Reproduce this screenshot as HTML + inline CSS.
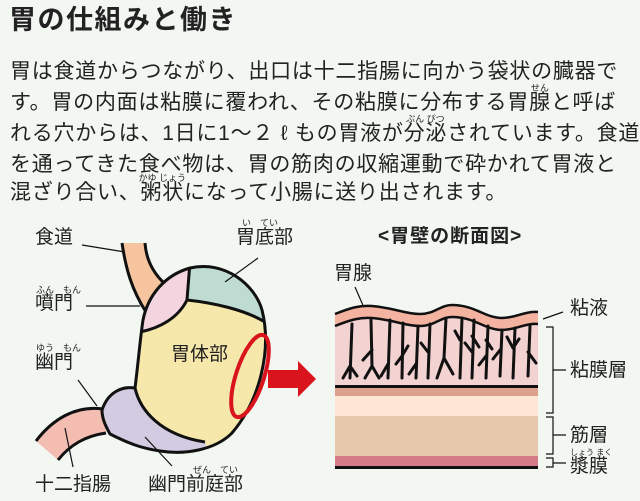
<!DOCTYPE html>
<html><head><meta charset="utf-8"><style>
html,body{margin:0;padding:0;background:#f3f7f2;}
body{width:640px;height:501px;position:relative;overflow:hidden;font-family:"Liberation Sans","Noto Sans CJK JP",sans-serif;color:#222;}
.t{position:absolute;left:10px;font-size:21px;letter-spacing:0.75px;white-space:nowrap;line-height:24px;}
.rb{position:relative;}
.rb i{position:absolute;left:50%;transform:translateX(-50%);top:-8px;font-style:normal;font-size:9px;line-height:10px;letter-spacing:0;white-space:nowrap;}
h1{position:absolute;left:9px;top:3px;margin:0;font-size:27px;font-weight:bold;letter-spacing:1.5px;line-height:34px;}
.r{position:absolute;font-size:9px;line-height:10px;white-space:nowrap;}
.l{position:absolute;font-size:19px;line-height:22px;white-space:nowrap;}
</style></head><body>
<h1>胃の仕組みと働き</h1>
<div class="t" style="top:60px">胃は食道からつながり、出口は十二指腸に向かう袋状の臓器で</div>
<div class="t" style="top:91px">す。胃の内面は粘膜に覆われ、その粘膜に分布する胃<span class="rb">腺<i>せん</i></span>と呼ば</div>
<div class="t" style="top:122px">れる穴からは、1日に1～２ ℓ もの胃液が<span class="rb">分泌<i>ぶん ぴつ</i></span>されています。食道</div>
<div class="t" style="top:153px">を通ってきた食べ物は、胃の筋肉の収縮運動で砕かれて胃液と</div>
<div class="t" style="top:181px">混ざり合い、<span class="rb">粥状<i>かゆ じょう</i></span>になって小腸に送り出されます。</div>

<svg width="640" height="501" style="position:absolute;left:0;top:0" xmlns="http://www.w3.org/2000/svg">
<defs>
<clipPath id="st"><path d="M190,268 C225,260 255,285 262,310 C272,350 260,400 232,433 C215,450 185,455 160,451 C140,448 128,443 110,434 L102,410 C108,392 122,386 135,388 C138,365 140,340 143,320 C148,295 165,275 190,268 Z"/></clipPath>
</defs>
<path d="M122,243 C126,270 132,290 146,312 L165,284 C152,272 146,258 145,243 Z" fill="#f6c49e" stroke="none"/>
<path d="M122,243 C126,270 132,290 146,312 M145,243 C146,258 152,272 165,284" fill="none" stroke="#111" stroke-width="3"/>
<path d="M103,409 C75,405 52,420 36,441 L58,460 C70,445 85,436 106,433 Z" fill="#f4bdb2"/>
<path d="M103,409 C75,405 52,420 36,441 M58,460 C70,445 85,436 106,433" fill="none" stroke="#111" stroke-width="3"/>
<g clip-path="url(#st)">
<rect x="90" y="250" width="190" height="220" fill="#f6e7ab"/>
<path d="M100,250 L190,262 L187,300 C178,318 160,328 140,332 L100,340 Z" fill="#f4d5df"/>
<path d="M190,262 L187,300 C215,303 245,310 265,322 L280,250 Z" fill="#bfdcd3"/>
<path d="M90,380 L135,388 C140,410 160,435 205,442 L210,470 L90,470 Z" fill="#d2cbe2"/>
<path d="M190,262 L187,300 C178,318 160,328 140,332 M187,300 C215,303 245,310 265,322 M135,388 C140,410 160,435 205,442" fill="none" stroke="#111" stroke-width="3"/>
</g>
<path d="M190,268 C225,260 255,285 262,310 C272,350 260,400 232,433 C215,450 185,455 160,451 C140,448 128,443 110,434 C105,425 102,418 102,410 C108,392 122,386 135,388 C138,365 140,340 143,320 C148,295 165,275 190,268 Z" fill="none" stroke="#111" stroke-width="3"/>
<ellipse cx="250" cy="376" rx="14" ry="43" transform="rotate(18 250 376)" fill="none" stroke="#d9141c" stroke-width="4"/>
<path d="M268,370 L298,370 L298,361 L316,379 L298,397 L298,388 L268,388 Z" fill="#d9141c"/>
<g stroke="#111" stroke-width="1.2" fill="none">
<path d="M82,245 L125,252"/><path d="M258,258 L225,282"/><path d="M86,306 L140,306"/>
<path d="M78,380 L97,406"/><path d="M65,428 L73,467"/><path d="M145,437 L172,466"/>
<path d="M355,287 L372,326"/><path d="M543,319 L563,312"/>
<path d="M546,327 L553,327 L553,413 L546,413 M553,370 L566,370"/>
<path d="M546,417 L553,417 L553,454 L546,454 M553,435 L566,435"/>
<path d="M546,458 L553,458 L553,467 L546,467 M553,463 L566,463"/>
</g>
<path d="M335,326 C350,320 360,317 372,318 C395,320 405,326 420,326 C435,326 440,317 452,317 C475,317 485,330 502,330 C515,330 525,323 538,324 L538,386 L335,386 Z" fill="#f2d3d1"/>
<path d="M335,314 C350,308 360,305 372,306 C395,308 405,314 420,314 C435,314 440,305 452,305 C475,305 485,318 502,318 C515,318 525,311 538,312 L538,324 C525,323 515,330 502,330 C485,330 475,317 452,317 C440,317 435,326 420,326 C405,326 395,320 372,318 C360,317 350,320 335,326 Z" fill="#f3b3a0"/>
<path d="M335,314 C350,308 360,305 372,306 C395,308 405,314 420,314 C435,314 440,305 452,305 C475,305 485,318 502,318 C515,318 525,311 538,312 M335,326 C350,320 360,317 372,318 C395,320 405,326 420,326 C435,326 440,317 452,317 C475,317 485,330 502,330 C515,330 525,323 538,324" fill="none" stroke="#111" stroke-width="2.5"/>
<rect x="335" y="387" width="203" height="9" fill="#dca08c"/>
<rect x="335" y="396" width="203" height="20" fill="#fde6d6"/>
<rect x="335" y="416" width="203" height="40" fill="#e8c8ac"/>
<rect x="335" y="456" width="203" height="10" fill="#d47c88"/>
<rect x="335" y="385" width="203" height="3" fill="#111"/>
<rect x="335" y="466" width="203" height="3" fill="#111"/>
<g stroke="#111" stroke-width="3" fill="none" stroke-linecap="round">
<path d="M352,324 L350,378 M350,366 L343,378 M350,366 L357,376"/>
<path d="M371,320 L372,366 L365,378 M372,366 L379,378 M372,350 L363,360"/>
<path d="M390,320 L388,378 M388,364 L381,376"/>
<path d="M403,323 L402,378 M402,356 L396,364 M402,356 L408,346"/>
<path d="M418,326 L416,378 M416,364 L409,374"/>
<path d="M430,324 L428,378 M428,352 L421,343"/>
<path d="M446,318 L444,358 L437,378 M444,358 L453,374"/>
<path d="M462,318 L460,378 M460,340 L455,331"/>
<path d="M474,320 L472,378 M472,352 L465,343 M472,336 L479,347"/>
<path d="M488,326 L486,378 M486,356 L479,365 M486,340 L492,349"/>
<path d="M502,330 L500,376 M500,350 L493,359"/>
<path d="M515,328 L513,378 M513,348 L507,337 M513,348 L519,339"/>
<path d="M530,326 L528,376 M528,352 L536,363"/>
</g>
</svg>

<div class="l" style="left:35px;top:227px">食道</div>
<div class="r" style="left:242px;top:218px">い　てい</div>
<div class="l" style="left:236px;top:227px">胃底部</div>
<div class="r" style="left:36px;top:285px">ふん　もん</div>
<div class="l" style="left:35px;top:293px">噴門</div>
<div class="r" style="left:36px;top:343px">ゆう　もん</div>
<div class="l" style="left:35px;top:352px">幽門</div>
<div class="l" style="left:171px;top:344px">胃体部</div>
<div class="l" style="left:35px;top:474px">十二指腸</div>
<div class="r" style="left:193px;top:465px">ぜん　てい</div>
<div class="l" style="left:148px;top:474px">幽門前庭部</div>
<div class="l" style="left:378px;top:226px;font-size:19px;font-weight:bold;letter-spacing:1px">&lt;胃壁の断面図&gt;</div>
<div class="l" style="left:334px;top:263px">胃腺</div>
<div class="l" style="left:570px;top:298px">粘液</div>
<div class="l" style="left:570px;top:360px">粘膜層</div>
<div class="l" style="left:570px;top:425px">筋層</div>
<div class="r" style="left:570px;top:448px;font-size:8px">しょう まく</div>
<div class="l" style="left:570px;top:456px">漿膜</div>
</body></html>
